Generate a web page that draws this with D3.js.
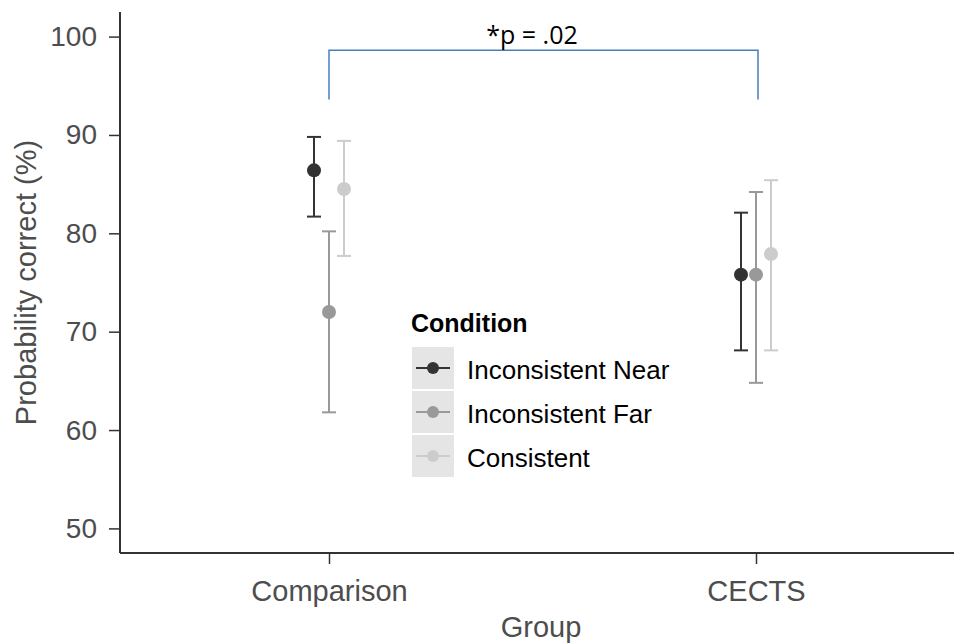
<!DOCTYPE html>
<html>
<head>
<meta charset="utf-8">
<script src="https://cdn.jsdelivr.net/npm/d3@7"></script>
<style>
  body { margin: 0; background: #fff; }
  svg { display: block; font-family: "Liberation Sans", Arial, sans-serif; }
</style>
</head>
<body>
<div id="chart"></div>
<script>
// groups on the x axis and conditions (dodged)
const groups = ["Comparison", "CECTS"];
const conditions = ["Inconsistent Near", "Inconsistent Far", "Consistent"];
const condColors = ["#333333", "#999999", "#cccccc"];

// mean and error bar ends, per group, in condition order
const means = {
    "Comparison": [86.4, 72.0, 84.5],
    "CECTS": [75.8, 75.8, 77.9]
};
const lows = {
    "Comparison": [81.7, 61.8, 77.7],
    "CECTS": [68.1, 64.8, 68.1]
};
const highs = {
    "Comparison": [89.8, 80.2, 89.4],
    "CECTS": [82.1, 84.2, 85.4]
};
const yTicks = [50, 60, 70, 80, 90, 100];
const sigLabel = "*p = .02";

const W = 954, H = 644;
const margin = {top: 12, right: 0, bottom: 91, left: 120};
const width = W - margin.left - margin.right;
const height = H - margin.top - margin.bottom;

const svg = d3.select("#chart").append("svg")
    .attr("width", W)
    .attr("height", H);

const g = svg.append("g")
    .attr("transform", `translate(${margin.left},${margin.top})`);

// scales
const y = d3.scaleLinear().domain([47.5, 102.5]).range([height, 0]);
const x = d3.scalePoint().domain(groups).range([209, 636]);
const dodge = d3.scalePoint().domain(conditions).range([-15, 15]);
const color = d3.scaleOrdinal().domain(conditions).range(condColors);

// flatten rows
let rows = [];
groups.forEach(grp => {
    conditions.forEach((c, i) => {
        rows.push({group: grp, cond: c, mean: means[grp][i], lo: lows[grp][i], hi: highs[grp][i]});
    });
});

// y axis
const yAxis = g.append("g")
    .call(d3.axisLeft(y).tickValues(yTicks).tickSize(11).tickPadding(12));
yAxis.select(".domain").attr("d", `M0,0V${height}`).attr("stroke", "#333").attr("stroke-width", 2);
yAxis.selectAll(".tick line").attr("stroke", "#333").attr("stroke-width", 1.5);
yAxis.selectAll(".tick text")
    .attr("fill", "#4d4d4d")
    .style("font-size", "28px");

// x axis
const xAxis = g.append("g")
    .attr("transform", `translate(0,${height})`)
    .call(d3.axisBottom(x).tickSize(11).tickPadding(16));
xAxis.select(".domain").attr("d", `M0,0H${width}`).attr("stroke", "#333").attr("stroke-width", 2);
xAxis.selectAll(".tick line").attr("stroke", "#333").attr("stroke-width", 1.5);
xAxis.selectAll(".tick text")
    .attr("fill", "#4d4d4d")
    .style("font-size", "29px");

// axis titles
svg.append("text")
    .attr("x", 541)
    .attr("y", 637)
    .attr("text-anchor", "middle")
    .attr("fill", "#4d4d4d")
    .style("font-size", "29px")
    .text("Group");

svg.append("text")
    .attr("transform", `translate(36,${margin.top + y(75)}) rotate(-90)`)
    .attr("text-anchor", "middle")
    .attr("fill", "#4d4d4d")
    .style("font-size", "29px")
    .text("Probability correct (%)");

// error bars
const bars = g.selectAll(".err")
    .data(rows)
    .enter().append("g")
    .attr("class", "err")
    .attr("stroke", d => color(d.cond))
    .attr("stroke-width", 2);

bars.append("line")
    .attr("x1", d => x(d.group) + dodge(d.cond))
    .attr("x2", d => x(d.group) + dodge(d.cond))
    .attr("y1", d => y(d.lo))
    .attr("y2", d => y(d.hi));

bars.append("line")
    .attr("x1", d => x(d.group) + dodge(d.cond) - 7)
    .attr("x2", d => x(d.group) + dodge(d.cond) + 7)
    .attr("y1", d => y(d.lo))
    .attr("y2", d => y(d.lo));

bars.append("line")
    .attr("x1", d => x(d.group) + dodge(d.cond) - 7)
    .attr("x2", d => x(d.group) + dodge(d.cond) + 7)
    .attr("y1", d => y(d.hi))
    .attr("y2", d => y(d.hi));

// points
g.selectAll(".pt")
    .data(rows)
    .enter().append("circle")
    .attr("class", "pt")
    .attr("cx", d => x(d.group) + dodge(d.cond))
    .attr("cy", d => y(d.mean))
    .attr("r", 7)
    .attr("fill", d => color(d.cond));

// significance bracket
const bracketY = y(98.6);
const bracketBottom = y(93.6);
g.append("path")
    .attr("d", `M${x("Comparison")},${bracketBottom}V${bracketY}H${x("CECTS") + 2}V${bracketBottom}`)
    .attr("fill", "none")
    .attr("stroke", "#4a7ebb")
    .attr("stroke-width", 1.5);

svg.append("text")
    .attr("x", 532)
    .attr("y", 44)
    .attr("text-anchor", "middle")
    .attr("fill", "#000")
    .style("font-family", "'Open Sans', 'Noto Sans', sans-serif")
    .style("font-size", "25px")
    .text(sigLabel);

// legend
const legend = svg.append("g").attr("transform", "translate(411,0)");
legend.append("text")
    .attr("x", 0)
    .attr("y", 332)
    .style("font-size", "25px")
    .style("font-weight", "bold")
    .attr("fill", "#000")
    .text("Condition");

const keys = legend.selectAll(".key")
    .data(conditions)
    .enter().append("g")
    .attr("class", "key")
    .attr("transform", (d, i) => `translate(0,${347 + i * 44})`);

keys.append("rect")
    .attr("x", 1)
    .attr("width", 42)
    .attr("height", 42)
    .attr("fill", "#e5e5e5");

keys.append("line")
    .attr("x1", 5)
    .attr("x2", 39)
    .attr("y1", 21)
    .attr("y2", 21)
    .attr("stroke", d => color(d))
    .attr("stroke-width", 2);

keys.append("circle")
    .attr("cx", 22)
    .attr("cy", 21)
    .attr("r", 6)
    .attr("fill", d => color(d));

keys.append("text")
    .attr("x", 56)
    .attr("y", 32)
    .style("font-size", "26px")
    .attr("fill", "#000")
    .text(d => d);
</script>
</body>
</html>
